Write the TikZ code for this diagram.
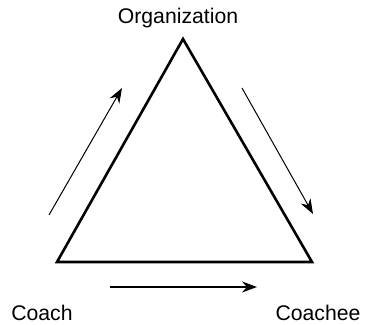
\documentclass[tikz,border=0pt]{standalone}
\usepackage{fontspec}
\setmainfont{Liberation Sans}
\usetikzlibrary{arrows.meta}
\begin{document}
\begin{tikzpicture}[x=0.5pt,y=-0.5pt,>={Stealth[length=7.5pt,width=5.5pt]}, font=\fontsize{10.6}{12}\selectfont, line join=miter]
		\useasboundingbox (0,0) rectangle (365,325);
		% corners of the triangle
		\coordinate (org) at (183,39);
		\coordinate (coach) at (57,262);
		\coordinate (coachee) at (312,262);
		\draw[line width=1.3pt] (coach)--(org)--(coachee)--cycle;
		\node (orglabel) at (178,18) {Organization};
		\node (coachlabel) at (42,313) {Coach};
		\node (coacheelabel) at (318,313) {Coachee};
		% arrows beside the sides
		\coordinate (up1) at (49,215);  \coordinate (up2) at (122,88);
		\coordinate (dn1) at (242,88);  \coordinate (dn2) at (313,214);
		\coordinate (rt1) at (110,287); \coordinate (rt2) at (257,287);
		\draw[->,line width=0.5pt] (up1)--(up2);
		\draw[->,line width=0.5pt] (dn1)--(dn2);
		\draw[->,line width=0.6pt] (rt1)--(rt2);
\end{tikzpicture}
\end{document}
